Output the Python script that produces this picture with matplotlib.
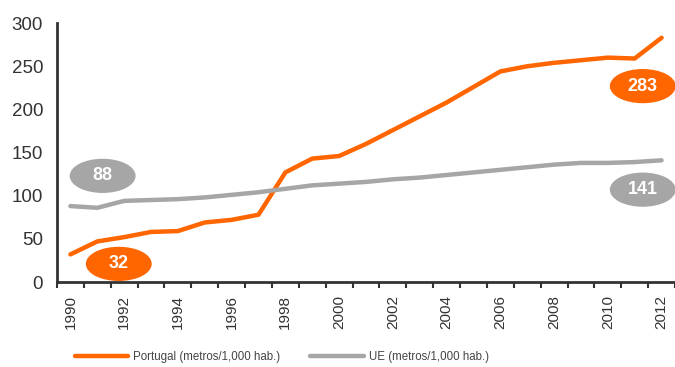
import matplotlib.pyplot as plt
from matplotlib.patches import Ellipse
import numpy as np

plt.rcParams['font.family'] = ['Liberation Sans', 'DejaVu Sans']

years = [str(y) for y in range(1990, 2013)]
portugal = [32, 47, 52, 58, 59, 69, 72, 78, 127, 143, 146, 160, 176, 192,
            208, 226, 244, 250, 254, 257, 260, 259, 283]
ue = [88, 86, 94, 95, 96, 98, 101, 104, 108, 112, 114, 116, 119, 121,
      124, 127, 130, 133, 136, 138, 138, 139, 141]

orange = '#FF6600'
grey = '#A6A6A6'
dark = '#333333'

fig = plt.figure(figsize=(6.75, 3.67), dpi=100)
ax = fig.add_axes([0.0844, 0.2316, 0.9156, 0.7054])

x = np.arange(len(years))
ax.plot(x, portugal, color=orange, lw=3.2, solid_capstyle='round',
        solid_joinstyle='round', label='Portugal (metros/1,000 hab.)')
ax.plot(x, ue, color=grey, lw=3.2, solid_capstyle='round',
        solid_joinstyle='round', label='UE (metros/1,000 hab.)')

# value bubbles
bubbles = [(1.2, 123, '88', grey), (1.8, 21, '32', orange),
           (21.3, 227, '283', orange), (21.3, 107, '141', grey)]
for bx, by, txt, col in bubbles:
    ax.add_patch(Ellipse((bx, by), 2.4, 38, color=col, zorder=3, clip_on=False))
    ax.text(bx, by, txt, color='white', fontsize=13, fontweight='bold',
            ha='center', va='center', zorder=4)

ax.set_xlim(-0.5, 22.5)
ax.set_ylim(0, 300)
ax.set_yticks(range(0, 301, 50))
ax.set_xticks(x[::2])
ax.set_xticklabels(years[::2], rotation=90)
ax.set_xticks(np.arange(-0.5, 23, 1), minor=True)
ax.tick_params(axis='x', which='major', length=0, pad=9, labelsize=11,
               labelcolor=dark)
ax.tick_params(axis='x', which='minor', length=4, width=1.5, color=dark,
               direction='out')
ax.tick_params(axis='y', length=0, pad=10, labelsize=13.5, labelcolor=dark)

for s in ['top', 'right']:
    ax.spines[s].set_visible(False)
for s in ['left', 'bottom']:
    ax.spines[s].set_color(dark)
    ax.spines[s].set_linewidth(2)

fig.legend(loc='center left', bbox_to_anchor=(0.096, 0.026), ncol=2,
           frameon=False, fontsize=8.3, handlelength=4.6, handletextpad=0.45,
           columnspacing=2.6, labelcolor='#444444')

fig.savefig('out.png', dpi=100)
